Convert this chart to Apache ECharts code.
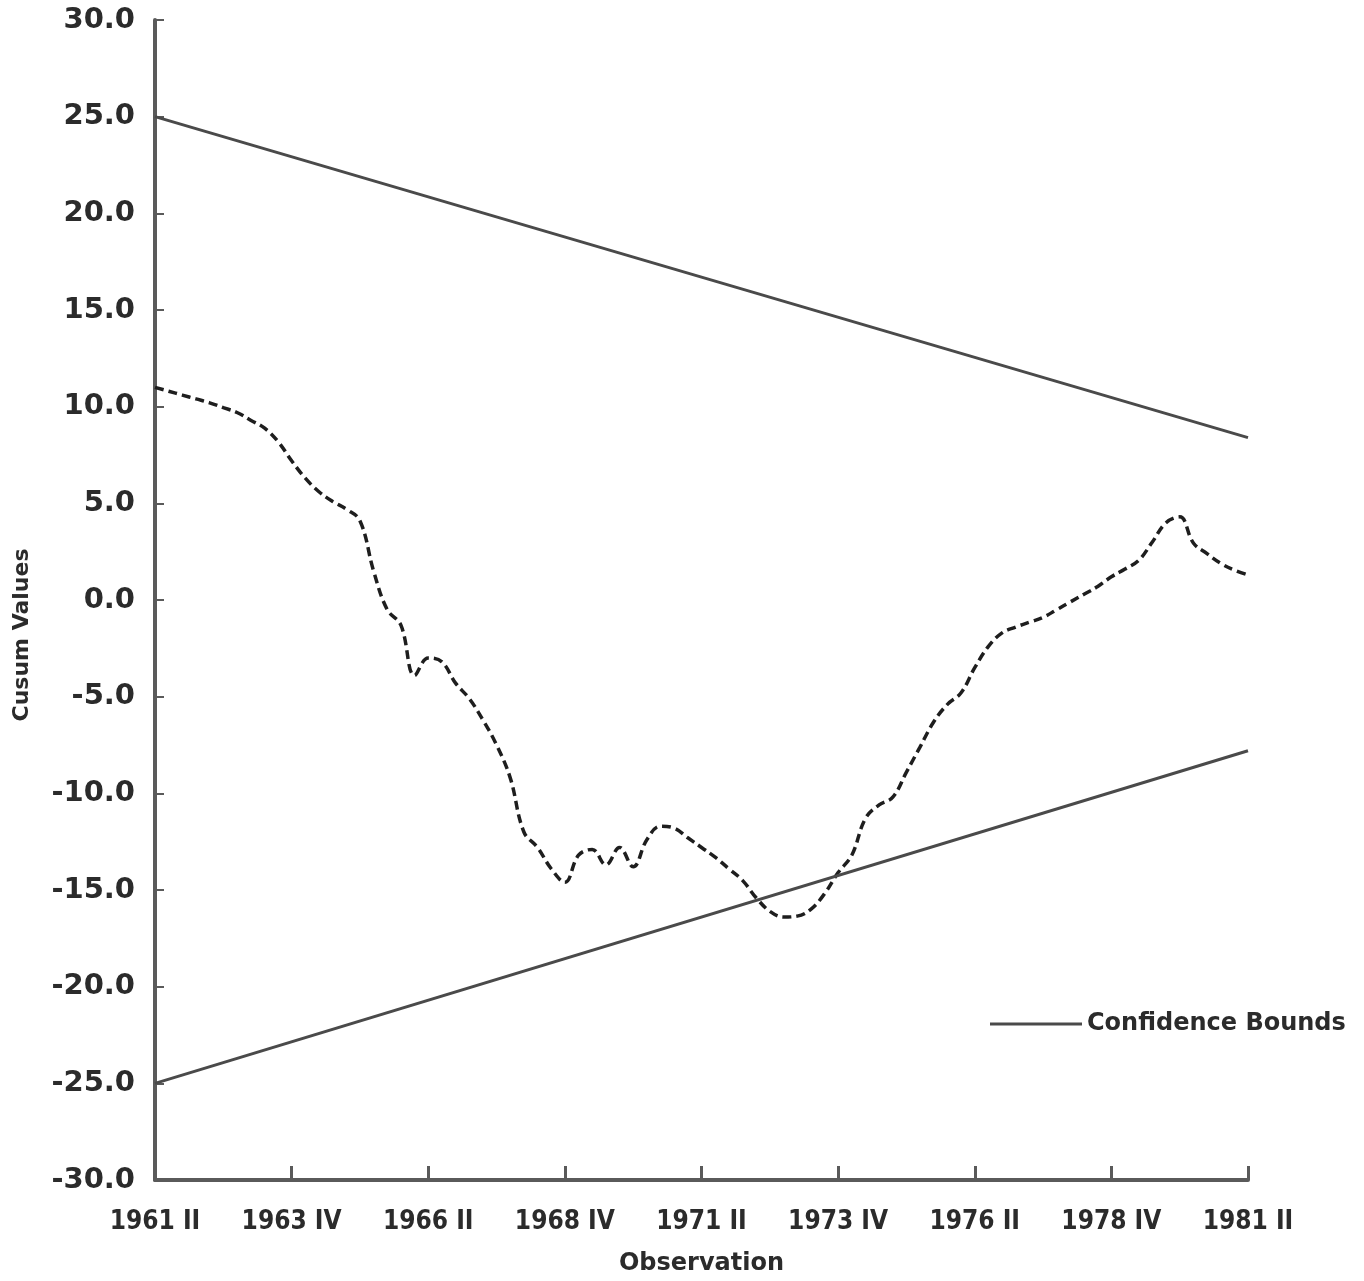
<!DOCTYPE html>
<html>
<head>
<meta charset="utf-8">
<script src="https://cdn.jsdelivr.net/npm/echarts@6/dist/echarts.min.js"></script>
<style>
html,body{margin:0;padding:0;background:#fff;}
#chart{width:1364px;height:1281px;}
</style>
</head>
<body>
<div id="chart"></div>
<script>
// Quarterly observations 1961 II .. 1981 II (81 quarters)
const romans = ['I', 'II', 'III', 'IV'];
const categories = [];
for (let y = 1961, q = 1; !(y === 1981 && q > 1); ) {
  categories.push(y + ' ' + romans[q]);
  q++; if (q > 3) { q = 0; y++; }
}
// Cusum values, one per quarter
const cusumValues = [
  11.0, 10.8, 10.6, 10.4, 10.2, 9.95, 9.7, 9.3, 8.9, 8.2,
  7.2, 6.3, 5.6, 5.1, 4.7, 4.1, 1.5, -0.5, -1.3, -3.9,
  -3.0, -3.2, -4.3, -5.1, -6.2, -7.5, -9.2, -12.0, -12.8, -13.9,
  -14.6, -13.2, -12.9, -13.7, -12.8, -13.8, -12.4, -11.7, -11.8, -12.3,
  -12.8, -13.3, -13.9, -14.5, -15.4, -16.1, -16.4, -16.35, -16.0, -15.2,
  -14.1, -13.2, -11.3, -10.6, -10.2, -8.9, -7.6, -6.3, -5.4, -4.8,
  -3.5, -2.4, -1.7, -1.4, -1.15, -0.9, -0.5, -0.1, 0.3, 0.7,
  1.2, 1.6, 2.05, 3.0, 4.0, 4.3, 2.95, 2.4, 1.9, 1.55,
  1.3
];
// Confidence bounds: [quarter index, value] at both ends
const upperBound = [[0, 25.0], [80, 8.4]];
const lowerBound = [[0, -25.0], [80, -7.8]];
const yTicks = { min: -30, max: 30, step: 5 };

const chart = echarts.init(document.getElementById('chart'), null, { renderer: 'canvas' });
const txt = '#2b2b2b';
const axisCol = '#5a5a5a';
const font = 'DejaVu Sans';
chart.setOption({
  backgroundColor: '#ffffff',
  animation: false,
  grid: { left: 155, right: 116, top: 20, bottom: 100, containLabel: false },
  legend: {
    data: ['Confidence Bounds'],
    left: 985, top: 1007,
    icon: 'rect', itemWidth: 92, itemHeight: 3, itemGap: 6,
    textStyle: { fontFamily: font, fontSize: 24, fontWeight: 'bold', color: txt, padding: [0, 0, 0, 0] }
  },
  xAxis: {
    type: 'category',
    data: categories,
    boundaryGap: false,
    name: 'Observation',
    nameLocation: 'middle',
    nameGap: 72,
    nameTextStyle: { fontFamily: font, fontSize: 24, fontWeight: 'bold', color: txt },
    axisLine: { onZero: false, lineStyle: { color: axisCol, width: 4 } },
    axisTick: { inside: true, length: 14, interval: 9, lineStyle: { color: axisCol, width: 3 } },
    axisLabel: {
      interval: 9, margin: 29, showMinLabel: true, showMaxLabel: true,
      fontFamily: 'DejaVu Sans Condensed', fontSize: 26, fontWeight: 'bold', color: txt
    },
    splitLine: { show: false }
  },
  yAxis: {
    type: 'value',
    min: yTicks.min, max: yTicks.max, interval: yTicks.step,
    name: 'Cusum Values',
    nameLocation: 'middle',
    nameGap: 122,
    nameRotate: 90,
    nameTextStyle: { fontFamily: font, fontSize: 22, fontWeight: 'bold', color: txt, padding: [0, 70, 0, 0] },
    axisLine: { show: true, lineStyle: { color: axisCol, width: 4 } },
    axisTick: { show: true, inside: true, length: 9, lineStyle: { color: axisCol, width: 2 } },
    axisLabel: {
      margin: 20, formatter: v => v.toFixed(1),
      fontFamily: font, fontSize: 29, fontWeight: 'bold', color: txt
    },
    splitLine: { show: false }
  },
  series: [
    {
      name: 'Cusum', type: 'line', data: cusumValues, smooth: 0.4,
      showSymbol: false, symbol: 'none',
      lineStyle: { color: '#1e1e1e', width: 3.5, type: [9, 5] },
      z: 3
    },
    {
      name: 'Confidence Bounds', type: 'line', data: upperBound,
      showSymbol: false, symbol: 'none',
      lineStyle: { color: '#4a4a4a', width: 3 },
      itemStyle: { color: '#4a4a4a' }
    },
    {
      name: 'Confidence Bounds', type: 'line', data: lowerBound,
      showSymbol: false, symbol: 'none',
      lineStyle: { color: '#4a4a4a', width: 3 },
      itemStyle: { color: '#4a4a4a' }
    }
  ]
});
</script>
</body>
</html>
